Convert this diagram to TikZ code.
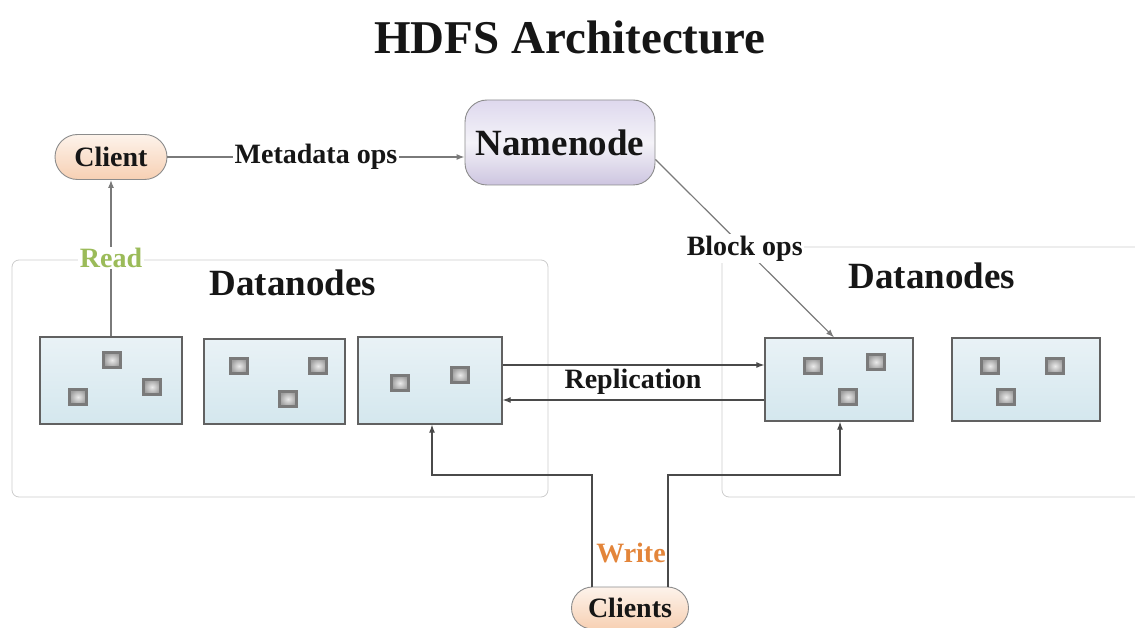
\documentclass[tikz,border=0pt]{standalone}
\usepackage{fontspec}
\setmainfont{Liberation Serif}
\usetikzlibrary{arrows.meta,shapes.misc}

\definecolor{inkc}{HTML}{161616}
\definecolor{readc}{HTML}{9BBB59}
\definecolor{writec}{HTML}{E3853A}
\definecolor{wirec}{HTML}{4A4A4A}
\definecolor{softwire}{HTML}{7A7A7A}
\definecolor{peachtop}{HTML}{FDF3EB}
\definecolor{peachbot}{HTML}{F7D0B3}
\definecolor{lavtop}{HTML}{DED8EE}
\definecolor{lavmid}{HTML}{F4F3F8}
\definecolor{lavbot}{HTML}{CDC5E0}
\definecolor{dntop}{HTML}{E9F2F6}
\definecolor{dnbot}{HTML}{D4E7EE}

\begin{document}
\begin{tikzpicture}[x=1pt,y=-1pt,
  every node/.style={text=inkc},
  conn/.style={draw=wirec,line width=1.2pt,-{Latex[length=8pt,width=6pt]}},
  softconn/.style={conn,draw=softwire},
  lbl/.style={font=\bfseries\fontsize{28}{30}\selectfont,fill=white,inner sep=1.5pt},
  pill/.style={rounded rectangle,draw=black!45,line width=0.9pt,
    top color=peachtop,bottom color=peachbot,
    font=\bfseries\fontsize{28}{30}\selectfont,inner sep=0pt},
  master/.style={draw=black!45,line width=0.9pt,rounded corners=22pt,
    top color=lavtop,bottom color=lavbot,middle color=lavmid,
    font=\bfseries\fontsize{37}{40}\selectfont,inner sep=0pt,
    minimum width=190pt,minimum height=85pt},
  group/.style={draw=black!20,line width=0.8pt,rounded corners=7pt,inner sep=0pt},
  grouptitle/.style={font=\bfseries\fontsize{37}{40}\selectfont,inner sep=0pt},
  dnode/.style={draw=black!62,line width=1.3pt,inner sep=0pt,
    top color=dntop,bottom color=dnbot},
  blk/.style={draw=black!52,line width=2.4pt,inner sep=0pt,
    inner color=black!8,outer color=black!38,
    minimum width=17pt,minimum height=15pt}
]
\useasboundingbox (0,0) rectangle (1135,628);
\clip (0,0) rectangle (1135,628);

% title
\node[font=\bfseries\fontsize{47}{50}\selectfont,inner sep=0pt] (title) at (570,37) {HDFS Architecture};

% datanode groups
\node[group,minimum width=536pt,minimum height=237pt] (gleft) at (280,378.5) {};
\node[group,minimum width=440pt,minimum height=250pt] (gright) at (942,372) {};
\node[grouptitle] (tleft) at (293,283) {Datanodes};
\node[grouptitle] (tright) at (932,276) {Datanodes};

% client, namenode, clients
\node[pill,minimum width=112pt,minimum height=45pt] (client) at (111,157) {Client};
\node[master] (nn) at (560,142.5) {Namenode};
\node[pill,minimum width=117pt,minimum height=42pt] (clients) at (630,608) {Clients};

% datanodes
\node[dnode,minimum width=142pt,minimum height=87pt] (dn1) at (111,380.5) {};
\node[dnode,minimum width=141pt,minimum height=85pt] (dn2) at (274.5,381.5) {};
\node[dnode,minimum width=144pt,minimum height=87pt] (dn3) at (430,380.5) {};
\node[dnode,minimum width=148pt,minimum height=83pt] (dn4) at (839,379.5) {};
\node[dnode,minimum width=148pt,minimum height=83pt] (dn5) at (1026,379.5) {};

% blocks held by each datanode
\foreach \n/\x/\y in {b11/112/360, b12/152/387, b13/78/397,
                      b21/239/366, b22/318/366, b23/288/399,
                      b31/400/383, b32/460/375,
                      b41/813/366, b42/876/362, b43/848/397,
                      b51/990/366, b52/1055/366, b53/1006/397}
  \node[blk] (\n) at (\x,\y) {};

% metadata ops
\draw[softconn] (client.east) -- node[lbl] {Metadata ops} (client.east -| nn.west);

% block ops
\draw[softconn] ([yshift=-17pt]nn.east) -- node[lbl,pos=0.5] {Block ops} ([xshift=-5pt]dn4.north);

% read
\draw[softconn] (dn1.north) -- node[lbl,text=readc,pos=0.5] {Read} (client.south);

% replication
\coordinate (r1) at (633,365);
\coordinate (r2) at (633,400);
\draw[conn] (dn3.east |- r1) -- (dn4.west |- r1);
\draw[conn] (dn4.west |- r2) -- (dn3.east |- r2);
\node[lbl,fill=none] (repl) at (633,382) {Replication};

% write
\coordinate (wl) at (592,475);
\coordinate (wr) at (668,475);
\draw[conn] (clients.north -| wl) -- (wl) -| ([xshift=2pt]dn3.south);
\draw[conn] (clients.north -| wr) -- (wr) -| ([xshift=1pt]dn4.south);
\node[lbl,fill=none,text=writec] (write) at (631,553) {Write};
\end{tikzpicture}
\end{document}
